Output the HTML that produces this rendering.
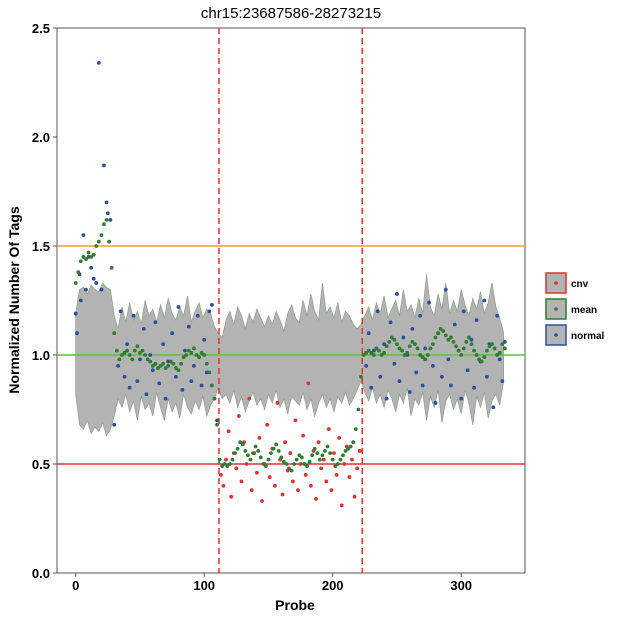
<!DOCTYPE html>
<html><head><meta charset="utf-8"><style>
body{margin:0;background:#fff;font-family:"Liberation Sans",Arial,sans-serif}
</style></head><body>
<svg id="c" width="617" height="617" xmlns="http://www.w3.org/2000/svg" style="font-family:'Liberation Sans',Arial,sans-serif">
<text x="291" y="18" text-anchor="middle" font-size="15">chr15:23687586-28273215</text>
<rect x="57" y="28" width="468" height="545" fill="none" stroke="#555" stroke-width="1"/>
<g id="plot"></g>
<g id="axes"></g>
<text x="295" y="610" text-anchor="middle" font-size="14" font-weight="bold">Probe</text>
<text x="19" y="300" text-anchor="middle" font-size="14" font-weight="bold" transform="rotate(-90 19 300)">Normalized Number Of Tags</text>
<g>
<g><rect x="546" y="273" width="20" height="20" fill="#b3b3b3" stroke="#e03030" stroke-width="1.5"/><circle cx="556" cy="283" r="1.8" fill="#e03030"/><text x="571" y="287" font-size="10" font-weight="bold">cnv</text></g>
<g><rect x="546" y="299" width="20" height="20" fill="#b3b3b3" stroke="#2e7d32" stroke-width="1.5"/><circle cx="556" cy="309" r="1.8" fill="#2e7d32"/><text x="571" y="313" font-size="10" font-weight="bold">mean</text></g>
<g><rect x="546" y="325" width="20" height="20" fill="#b3b3b3" stroke="#2b4fa0" stroke-width="1.5"/><circle cx="556" cy="335" r="1.8" fill="#2b4fa0"/><text x="571" y="339" font-size="10" font-weight="bold">normal</text></g>
</g>
</svg>
<script>
const xTicks=[0,100,200,300];
const yTicks=[0,0.5,1.0,1.5,2.0,2.5];
const yTickLabels=["0.0","0.5","1.0","1.5","2.0","2.5"];
const hLines=[1.5,1.0,0.5];
const vLines=[111.5,223];
const bandStep=3;
const bandUpper=[1.19,1.30,1.31,1.28,1.32,1.30,1.29,1.33,1.31,1.30,
1.18,1.12,1.22,1.15,1.24,1.16,1.20,1.14,1.25,1.18,1.21,1.15,1.23,1.17,1.26,1.19,1.16,1.22,1.18,1.27,1.15,1.20,1.24,1.17,1.21,1.19,1.13,
1.10,1.08,1.16,1.20,1.14,1.22,1.18,1.12,1.19,1.15,1.21,1.17,1.13,1.18,1.14,1.20,1.16,1.11,1.19,1.23,1.17,1.15,1.25,1.18,1.28,1.20,1.16,1.33,1.19,1.22,1.17,1.24,1.15,1.20,1.18,1.14,1.12,
1.14,1.18,1.22,1.16,1.24,1.19,1.27,1.17,1.21,1.25,1.18,1.30,1.20,1.23,1.17,1.26,1.19,1.37,1.22,1.18,1.28,1.21,1.33,1.19,1.25,1.20,1.30,1.23,1.18,1.26,1.21,1.29,1.19,1.24,1.33,1.22,1.17,1.10];
const bandLower=[0.82,0.68,0.66,0.70,0.64,0.67,0.65,0.69,0.63,0.66,
0.72,0.80,0.76,0.82,0.74,0.79,0.70,0.81,0.75,0.78,0.72,0.83,0.76,0.70,0.80,0.74,0.78,0.71,0.82,0.76,0.73,0.79,0.75,0.81,0.72,0.77,0.80,
0.85,0.80,0.82,0.78,0.84,0.76,0.81,0.74,0.79,0.83,0.77,0.80,0.75,0.82,0.78,0.84,0.76,0.80,0.73,0.81,0.79,0.77,0.83,0.75,0.80,0.72,0.78,0.82,0.76,0.80,0.74,0.81,0.78,0.83,0.77,0.80,0.84,
0.88,0.83,0.79,0.85,0.78,0.82,0.76,0.84,0.80,0.74,0.82,0.78,0.85,0.72,0.80,0.77,0.83,0.70,0.81,0.76,0.84,0.69,0.79,0.82,0.75,0.80,0.73,0.84,0.78,0.68,0.81,0.76,0.83,0.71,0.79,0.82,0.77,0.88];
const meanStep=2;
const meanValues=[1.33,1.38,1.43,1.45,1.44,1.47,1.45,1.46,1.50,1.52,1.55,1.60,1.62,1.52,1.40,
1.10,1.02,0.98,1.00,1.01,1.02,1.00,0.98,1.02,1.04,1.01,1.02,1.00,0.98,0.97,0.95,0.96,0.94,0.95,0.96,0.94,0.95,0.97,0.96,0.94,0.93,0.96,0.99,1.00,1.02,1.01,1.03,1.00,0.99,1.01,1.00,0.96,0.92,0.86,0.80,
0.68,0.52,0.49,0.50,0.49,0.50,0.52,0.55,0.57,0.60,0.59,0.56,0.54,0.52,0.55,0.58,0.56,0.53,0.50,0.49,0.52,0.55,0.57,0.59,0.56,0.53,0.51,0.50,0.48,0.47,0.50,0.52,0.54,0.53,0.50,0.49,0.51,0.54,0.57,0.55,0.52,0.54,0.56,0.58,0.55,0.52,0.49,0.50,0.52,0.54,0.56,0.57,0.58,0.60,0.66,0.75,
0.90,1.00,1.01,1.02,1.01,1.00,1.03,1.02,1.00,1.01,1.04,1.06,1.08,1.07,1.05,1.03,1.02,1.00,1.01,1.04,1.06,1.05,1.03,1.00,0.99,0.98,1.00,1.03,1.05,1.08,1.10,1.12,1.11,1.09,1.07,1.08,1.06,1.04,1.02,1.00,1.03,1.06,1.08,1.05,1.02,1.00,0.98,0.97,0.99,1.02,1.04,1.05,1.03,1.00,1.01,1.05,1.03];
const normalProbes=[0,1,3,4,6,8,10,12,14,16,18,20,22,24,25,27,30,33,35,38,40,42,45,48,50,53,55,58,60,62,65,68,70,72,75,78,80,83,85,88,90,92,95,98,100,102,104,106,108,110,
226,228,230,232,235,237,240,242,245,248,250,252,255,258,260,262,265,268,270,272,275,278,280,282,285,288,290,292,295,298,300,302,305,308,310,312,315,318,320,322,325,328,330,332,334];
const normalValues=[1.19,1.10,1.37,1.25,1.55,1.30,1.45,1.40,1.35,1.33,2.34,1.30,1.87,1.70,1.65,1.62,0.68,0.95,1.20,0.90,1.05,0.85,1.18,0.88,0.98,1.12,0.82,1.00,0.93,1.15,0.87,1.05,0.80,0.97,1.10,0.90,1.22,0.84,1.02,1.13,0.88,0.95,1.18,0.86,1.07,0.92,1.20,1.23,0.80,0.70,
0.95,1.10,0.85,1.02,1.20,0.90,1.05,0.80,1.15,0.96,1.28,0.88,1.08,1.00,0.83,1.12,0.92,1.18,0.86,1.03,1.24,0.95,0.78,1.10,0.90,1.30,0.98,0.86,1.14,1.02,0.80,1.20,0.93,1.07,0.85,1.16,0.97,1.25,0.90,1.05,0.76,1.18,0.98,0.88,1.06];
const cnvProbes=[113,115,117,119,121,123,125,127,129,131,133,135,137,139,141,143,145,147,149,151,153,155,157,159,161,163,165,167,169,171,173,175,177,179,181,183,185,187,189,191,193,195,197,199,201,203,205,207,209,211,213,215,217,219,221];
const cnvValues=[0.45,0.40,0.52,0.65,0.35,0.55,0.48,0.72,0.42,0.60,0.50,0.80,0.38,0.55,0.46,0.62,0.33,0.50,0.68,0.44,0.57,0.40,0.78,0.52,0.36,0.60,0.47,0.55,0.42,0.70,0.38,0.50,0.63,0.45,0.87,0.40,0.56,0.34,0.60,0.48,0.52,0.42,0.66,0.38,0.55,0.45,0.62,0.31,0.50,0.58,0.44,0.52,0.35,0.48,0.56];

const X0=75.7,XS=1.285,Y0=573,YS=218;
const xs=p=>X0+p*XS, ys=v=>Y0-v*YS;
const NS="http://www.w3.org/2000/svg";
const plot=document.getElementById('plot'), axes=document.getElementById('axes');
function mk(tag,attrs,parent){const e=document.createElementNS(NS,tag);for(const k in attrs)e.setAttribute(k,attrs[k]);parent.appendChild(e);return e;}

// band
let d='';
bandUpper.forEach((v,i)=>{d+=(i?'L':'M')+xs(i*bandStep).toFixed(1)+','+ys(v).toFixed(1);});
for(let i=bandLower.length-1;i>=0;i--)d+='L'+xs(i*bandStep).toFixed(1)+','+ys(bandLower[i]).toFixed(1);
d+='Z';
const band=mk('path',{d:d,fill:'#b3b3b3',stroke:'#8fa48f','stroke-width':'0.8'},plot);



// h lines
const hColors=['#f0a030','#5cbf3c','#e03030'];
hLines.forEach((v,i)=>{const l=mk('line',{x1:57,x2:525,y1:ys(v),y2:ys(v),stroke:hColors[i],'stroke-width':'1.5'},plot);

});
vLines.forEach(p=>{const l=mk('line',{x1:xs(p),x2:xs(p),y1:28,y2:573,stroke:'#e03030','stroke-width':'1.5','stroke-dasharray':'6,4'},plot);

});

// points
normalProbes.forEach((p,i)=>{const c=mk('circle',{cx:xs(p),cy:ys(normalValues[i]),r:1.9,fill:'#2b4fa0'},plot);

});
cnvProbes.forEach((p,i)=>{const c=mk('circle',{cx:xs(p),cy:ys(cnvValues[i]),r:1.9,fill:'#e03030'},plot);

});
meanValues.forEach((v,i)=>{const c=mk('circle',{cx:xs(i*meanStep),cy:ys(v),r:1.9,fill:'#2e7d32'},plot);

});

// axes
xTicks.forEach(t=>{mk('line',{x1:xs(t),x2:xs(t),y1:573,y2:577,stroke:'#555'},axes);
const tx=mk('text',{x:xs(t),y:590,'text-anchor':'middle','font-size':'13','font-weight':'bold'},axes);tx.textContent=t;

});
yTicks.forEach((t,i)=>{mk('line',{x1:53,x2:57,y1:ys(t),y2:ys(t),stroke:'#555'},axes);
const tx=mk('text',{x:50,y:ys(t)+5,'text-anchor':'end','font-size':'13','font-weight':'bold'},axes);tx.textContent=yTickLabels[i];

});
</script>
</body></html>
